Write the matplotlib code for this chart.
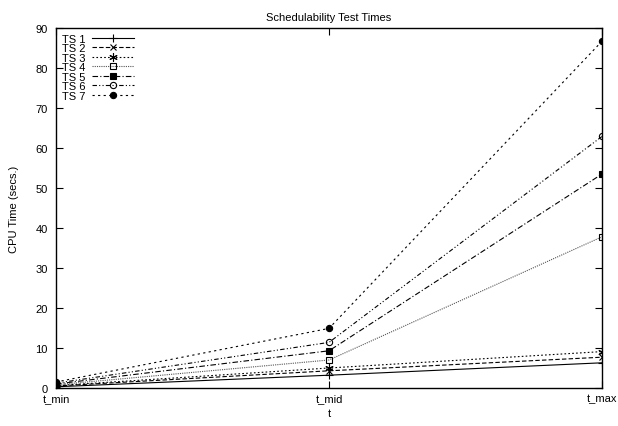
import matplotlib
matplotlib.use("Agg")
import matplotlib.pyplot as plt

plt.rcParams['font.family'] = ['Liberation Sans', 'DejaVu Sans']

# x categories
tlabels = ['t_min', 't_mid', 't_max']
xs = [0, 1, 2]

# CPU time (secs.) per task set
ts1 = [0.3, 3.2, 6.3]
ts2 = [0.5, 4.3, 7.7]
ts3 = [0.6, 5.0, 9.1]
ts4 = [0.8, 7.0, 37.8]
ts5 = [1.0, 9.3, 53.5]
ts6 = [1.2, 11.4, 62.9]
ts7 = [1.5, 14.9, 86.7]

series = [ts1, ts2, ts3, ts4, ts5, ts6, ts7]
names = ['TS 1', 'TS 2', 'TS 3', 'TS 4', 'TS 5', 'TS 6', 'TS 7']

# gnuplot-ish line types
styles = [
    dict(ls='-', marker='+', mfc='black', ms=6, color='black'),
    dict(ls=(0, (4, 2)), marker='x', mfc='black', ms=4.5, color='black'),
    dict(ls=(0, (1.5, 2)), marker=(6, 2, 0), mfc='black', ms=6, color='black'),
    dict(ls=(0, (1, 1)), marker='s', mfc='none', ms=4.5, color='#555555'),
    dict(ls=(0, (5, 2, 1, 2)), marker='s', mfc='black', ms=4.5, color='black'),
    dict(ls=(0, (4, 2, 1, 2, 1, 2)), marker='o', mfc='none', ms=4.5, color='black'),
    dict(ls=(0, (2, 3)), marker='o', mfc='black', ms=4.5, color='black'),
]

fig = plt.figure(figsize=(6.18, 4.27), dpi=100)
ax = fig.add_axes([0.0906, 0.089, 0.8835, 0.843])

for vals, name, st in zip(series, names, styles):
    ax.plot(xs, vals, label=name, lw=0.8, mew=0.8,
            markeredgecolor='black', **st)

ax.set_xlim(0, 2)
ax.set_ylim(0, 90)
ax.set_xticks(xs)
ax.set_xticklabels(tlabels)
ax.set_yticks(range(0, 91, 10))
ax.tick_params(direction='in', top=True, right=True, labelsize=8, length=5, width=0.8)
ax.tick_params(axis='y', pad=6)
for sp in ax.spines.values():
    sp.set_linewidth(1.0)

ax.set_title('Schedulability Test Times', fontsize=8, pad=6)
ax.set_xlabel('t', fontsize=8, labelpad=4)
ax.set_ylabel('CPU Time (secs.)', fontsize=8, labelpad=12)

ax.legend(loc='upper left', frameon=False, fontsize=8, markerfirst=False,
          handlelength=3.8, handletextpad=0.6, labelspacing=-0.04,
          borderaxespad=0.1, bbox_to_anchor=(0.0, 1.0))

fig.savefig('out.png', dpi=100)
